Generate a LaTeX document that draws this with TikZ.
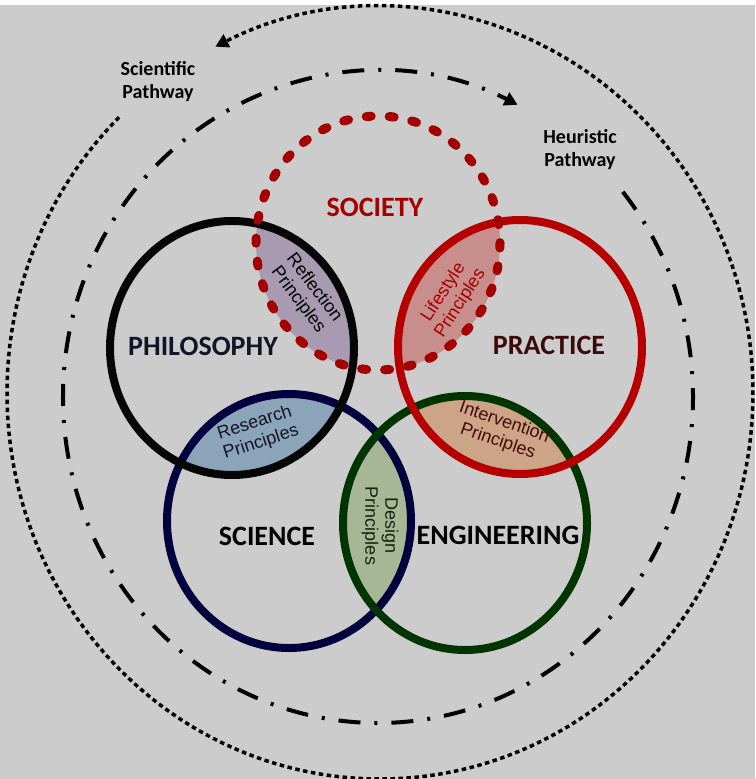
\documentclass[tikz,border=0pt]{standalone}
\usepackage{fontspec}
\setmainfont{Liberation Sans}
\newfontfamily\calib{Carlito}
\usetikzlibrary{arrows.meta,calc}

\definecolor{bg}{RGB}{204,204,204}
\definecolor{philo}{RGB}{6,6,6}
\definecolor{pract}{RGB}{182,0,0}
\definecolor{soc}{RGB}{165,0,0}
\definecolor{sci}{RGB}{0,0,62}
\definecolor{eng}{RGB}{0,52,0}
\definecolor{reflfill}{RGB}{168,155,177}
\definecolor{lifefill}{RGB}{200,142,140}
\definecolor{resfill}{RGB}{139,164,185}
\definecolor{intfill}{RGB}{204,164,135}
\definecolor{desfill}{RGB}{167,183,150}
\definecolor{philotxt}{RGB}{20,20,40}
\definecolor{practxt}{RGB}{60,10,10}
\definecolor{inttxt}{RGB}{70,10,10}
\definecolor{destxt}{RGB}{20,35,10}

\begin{document}
\begin{tikzpicture}[x=1pt, y=-1pt,
	ring/.style={line width=8pt},
	ringsize/.style={x radius=122, y radius=127},
	big/.style={font=\calib\bfseries\fontsize{28}{30}\selectfont},
	lens/.style={font=\fontsize{18}{20}\selectfont, align=center, inner sep=1pt},
	pathlabel/.style={font=\calib\bfseries\fontsize{20}{23}\selectfont, align=center}]
	%\draw[help lines, step=50] (0,0) grid (755,779);
	
	\useasboundingbox (0,0) rectangle (755,779);
	\fill[bg] (0,0) rectangle (755,779);
	\fill[white] (0,0) rectangle (755,5);					% white strip on top
	
	\coordinate (society) at (378,243);
	\coordinate (philosophy) at (232,348);
	\coordinate (practice) at (520,347);
	\coordinate (science) at (289,521);
	\coordinate (engineering) at (465,523);
	\coordinate (outer) at (380,393);
	\coordinate (inner) at (378,397);
	
	% overlaps
	\begin{scope}
		\clip (philosophy) ellipse [ringsize];
		\fill[reflfill] (society) ellipse [ringsize];
	\end{scope}
	\begin{scope}
		\clip (practice) ellipse [ringsize];
		\fill[lifefill] (society) ellipse [ringsize];
	\end{scope}
	\begin{scope}
		\clip (philosophy) ellipse [ringsize];
		\fill[resfill] (science) ellipse [ringsize];
	\end{scope}
	\begin{scope}
		\clip (practice) ellipse [ringsize];
		\fill[intfill] (engineering) ellipse [ringsize];
	\end{scope}
	\begin{scope}
		\clip (science) ellipse [ringsize];
		\fill[desfill] (engineering) ellipse [ringsize];
	\end{scope}
	
	% pathways
	\draw[line width=3.5pt, dash pattern=on 4.5pt off 3.5pt, -{Triangle[length=13pt, width=14pt]}]
		($(outer)+(225.6:373 and 386)$) arc[start angle=225.6, end angle=-116.2, x radius=373, y radius=386];
	\draw[line width=4pt, dash pattern=on 22pt off 14pt on 3pt off 14pt, -{Triangle[length=13pt, width=14pt]}]
		($(inner)+(-39:315 and 326)$) arc[start angle=-39, end angle=296.3, x radius=315, y radius=326];
	
	% rings
	\draw[ring, sci] (science) ellipse [ringsize];
	\draw[ring, eng] (engineering) ellipse [ringsize];
	\draw[ring, philo] (philosophy) ellipse [ringsize];
	\draw[ring, pract] (practice) ellipse [ringsize];
	\draw[soc, line width=9pt, line cap=round, dash pattern=on 5pt off 18pt] (society) ellipse [ringsize];
	
	\node[big, text=soc] (societylbl) at (375,207) {SOCIETY};
	\node[big, text=philotxt] (philolbl) at (203,346) {PHILOSOPHY};
	\node[big, text=practxt] (practlbl) at (549,345) {PRACTICE};
	\node[big] (scilbl) at (267,536) {SCIENCE};
	\node[big] (englbl) at (498,535) {ENGINEERING};
	
	\node[lens, rotate=-53] (refllbl) at (306,294) {Reflection\\Principles};
	\node[lens, text=soc, rotate=57] (lifelbl) at (452,298) {Lifestyle\\Principles};
	\node[lens, text=philotxt, rotate=18] (reslbl) at (258,433) {Research\\Principles};
	\node[lens, text=inttxt, rotate=-19] (intlbl) at (501,432) {Intervention\\Principles};
	\node[lens, text=destxt, rotate=-90] (deslbl) at (380,526) {Design\\Principles};
	
	\node[pathlabel] (scipath) at (158,82) {Scientific\\Pathway};
	\node[pathlabel] (heurpath) at (580,150) {Heuristic\\Pathway};
\end{tikzpicture}
\end{document}
